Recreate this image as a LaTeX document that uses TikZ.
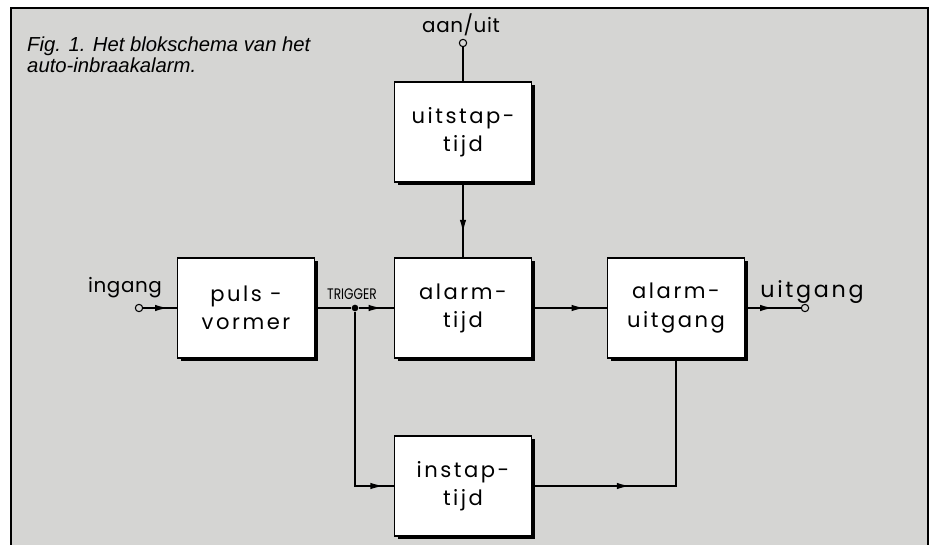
\documentclass[tikz,border=0pt]{standalone}
\usepackage{fontspec}
\usepackage{tikz}
\usetikzlibrary{arrows.meta,positioning,shadows,decorations.markings}
\newfontfamily\blockfont[LetterSpace=12]{Poppins}
\newfontfamily\pinfont[LetterSpace=3]{Poppins}
\newfontfamily\trigfont[FakeStretch=0.8]{Poppins}
\newfontfamily\capfont{Liberation Sans}
\definecolor{paper}{RGB}{213,213,211}

\begin{document}
\begin{tikzpicture}[x=0.03cm, y=-0.03cm,
      box/.style={draw, fill=white, line width=1.1pt, minimum width=4.1cm, minimum height=3.0cm,
                  align=center, font=\blockfont\fontsize{18}{24}\selectfont,
                  drop shadow={opacity=1, fill=black, shadow xshift=0.1cm, shadow yshift=-0.1cm}},
      term/.style={draw, circle, fill=paper, line width=0.9pt, inner sep=0pt, minimum size=0.22cm},
      lbl/.style={font=\pinfont\fontsize{17}{18}\selectfont, inner sep=0pt},
      flow/.style={postaction={decorate}, decoration={markings,
                   mark=at position #1 with {\arrow{Latex[length=11pt,width=5.5pt]}}}},
      flow/.default=0.65,
      line/.style={line width=1.1pt}
    ]
      \useasboundingbox (0,0) rectangle (936,545);
      \fill[paper] (11,8) rectangle (928,545);
      \draw[line width=1.5pt] (11,545) -- (11,8) -- (928,8) -- (928,545);

      % caption
      \node[font=\capfont\itshape\fontsize{17.3}{17.5}\selectfont, align=left, anchor=north west, inner sep=0pt]
        (cap) at (27,37) {Fig. 1. Het blokschema van het\\auto-inbraakalarm.};

      % blocks
      \node[box] (uitstap) at (463,132) {uitstap-\\tijd};
      \node[box] (puls) at (246,308) {puls -\\vormer};
      \node[box] (alarm) at (463,308) {alarm-\\tijd};
      \node[box] (uitg) at (676,308) {alarm-\\uitgang};
      \node[box] (inst) at (463,486) {instap-\\tijd};

      % terminals
      \node[term] (aan) at (463,43) {};
      \node[term] (inT) at (139,308) {};
      \node[term] (outT) at (805,308) {};
      \node[circle, fill=black, inner sep=0pt, minimum size=0.2cm] (trig) at (355,308) {};

      \node[lbl, anchor=base] (aanlbl) at (461,33) {aan/uit};
      \node[lbl, anchor=base] (inlbl) at (125,293) {ingang};
      \node[lbl, font=\blockfont\fontsize{19}{20}\selectfont, anchor=base] (outlbl) at (812,298) {uitgang};
      \node[font=\trigfont\fontsize{13}{14}\selectfont, inner sep=0pt, anchor=base] (triglbl) at (352,300) {TRIGGER};

      % connectors
      \draw[line] (aan) -- (uitstap);
      \draw[line, flow=0.67] (uitstap) -- (alarm);
      \draw[line, flow=0.73] (inT) -- (puls);
      \draw[line] (puls) -- (trig);
      \draw[line, flow=0.65] (trig) -- (alarm);
      \draw[line, flow=0.7] (alarm) -- (uitg);
      \draw[line, flow=0.5] (uitg) -- (outT);
      \draw[line, flow=0.95] (trig) |- (inst);
      \draw[line, flow=0.36] (inst) -| (uitg);
    \end{tikzpicture}
\end{document}
